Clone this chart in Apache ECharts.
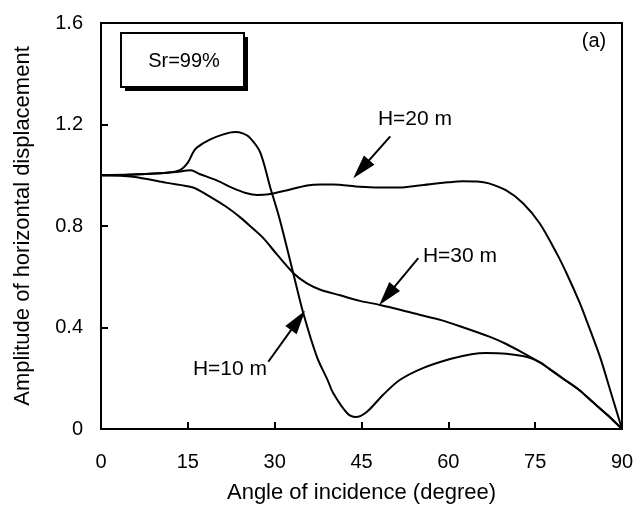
<!DOCTYPE html>
<html><head><meta charset="utf-8">
<script src="https://cdn.jsdelivr.net/npm/echarts@6/dist/echarts.min.js"></script>
<style>html,body{margin:0;padding:0;background:#fff}#c{width:644px;height:509px}</style>
</head><body><div id="c"></div>
<script>
// ---- data ----
const xTickStep = 15;
const yTickStep = 0.4;
const seriesNames = ['H=10 m', 'H=20 m', 'H=30 m'];

const h10Angle = [0, 5, 11.4, 13.6, 15, 15.9, 16.6, 18.8, 21, 23.1, 24.5, 25.7, 27.5, 29.2, 30.9, 33.2, 34.9, 37.3, 39.2, 40.1, 42.5, 44, 45.9, 48.7, 51.6, 55.6, 60.3, 64, 66.5, 70, 73.6, 75.8, 78, 80, 82.6, 85, 87.5, 90];
const h10Amp   = [1.0, 1.003, 1.01, 1.02, 1.05, 1.09, 1.11, 1.14, 1.16, 1.17, 1.165, 1.148, 1.09, 0.955, 0.824, 0.615, 0.46, 0.284, 0.19, 0.142, 0.063, 0.047, 0.067, 0.134, 0.193, 0.24, 0.276, 0.295, 0.30, 0.297, 0.284, 0.264, 0.228, 0.195, 0.154, 0.105, 0.055, 0];

const h20Angle = [0, 5, 10, 13, 15.5, 17, 20, 22.7, 25, 27, 29, 32, 35.6, 38, 40, 44.7, 48, 51.5, 55, 60, 62.5, 65, 67, 70, 72.9, 75.8, 78.7, 80.5, 82.7, 84, 86.2, 88, 90];
const h20Amp   = [1.0, 1.002, 1.008, 1.013, 1.02, 1.005, 0.98, 0.95, 0.93, 0.922, 0.925, 0.94, 0.96, 0.964, 0.964, 0.955, 0.952, 0.952, 0.96, 0.972, 0.976, 0.975, 0.968, 0.94, 0.89, 0.81, 0.693, 0.61, 0.497, 0.42, 0.284, 0.15, 0];

const h30Angle = [0, 5.5, 11.4, 15.9, 18.3, 21.7, 24, 26, 28, 30.5, 33.2, 35.5, 38, 41.3, 44.7, 48.2, 52, 55, 58.6, 62, 67.2, 70, 72.5, 75.8, 78, 80, 82.6, 85, 87.5, 90];
const h30Amp   = [1.0, 0.994, 0.97, 0.952, 0.923, 0.875, 0.835, 0.795, 0.753, 0.685, 0.615, 0.575, 0.548, 0.527, 0.505, 0.489, 0.468, 0.45, 0.43, 0.405, 0.363, 0.335, 0.305, 0.262, 0.228, 0.196, 0.154, 0.105, 0.055, 0];

// annotation arrows: [start angle, start amp, head angle, head amp]
const arrow10 = [28.9, 0.265, 34.03, 0.428];
const arrow20 = [49.97, 1.153, 44.95, 1.024];
const arrow30 = [54.81, 0.673, 49.4, 0.525];

const panelText = 'Sr=99%';
const panelTag = '(a)';
const xTitle = 'Angle of incidence (degree)';
const yTitle = 'Amplitude of horizontal displacement';

// ---- chart ----
const FONT = '"Liberation Sans", Arial, sans-serif';
const zip = (a, b) => a.map((v, i) => [v, b[i]]);
const arrowLine = a => ({
  silent: true,
  symbol: ['none', 'triangle'],
  symbolSize: [14, 24],
  label: { show: false },
  lineStyle: { color: '#000', width: 2, type: 'solid' },
  emphasis: { disabled: true },
  data: [[{ coord: [a[0], a[1]] }, { coord: [a[2], a[3]] }]]
});
const lineSeries = (name, ang, amp, arrow) => ({
  name, type: 'line', data: zip(ang, amp),
  showSymbol: false, smooth: 0.3, silent: true,
  lineStyle: { color: '#000', width: 2 },
  itemStyle: { color: '#000' },
  markLine: arrowLine(arrow),
  z: 3
});

const chart = echarts.init(document.getElementById('c'), null, { renderer: 'canvas' });
chart.setOption({
  animation: false,
  backgroundColor: '#fff',
  textStyle: { fontFamily: FONT },
  grid: { left: 101, right: 22, top: 23, bottom: 80, show: true, borderColor: '#000', borderWidth: 2, backgroundColor: 'transparent' },
  xAxis: {
    type: 'value', min: 0, max: 90, interval: xTickStep,
    name: xTitle, nameLocation: 'middle', nameGap: 53,
    nameTextStyle: { fontSize: 22, color: '#000', fontFamily: FONT },
    axisLine: { lineStyle: { color: '#000', width: 2 } },
    axisTick: { inside: true, length: 7, lineStyle: { color: '#000', width: 2 } },
    axisLabel: { fontSize: 20, color: '#000', margin: 23, fontFamily: FONT },
    splitLine: { show: false }
  },
  yAxis: {
    type: 'value', min: 0, max: 1.6, interval: yTickStep,
    name: yTitle, nameLocation: 'middle', nameGap: 67, nameRotate: 90,
    nameTextStyle: { fontSize: 22, color: '#000', fontFamily: FONT },
    axisLine: { lineStyle: { color: '#000', width: 2 } },
    axisTick: { inside: true, length: 7, lineStyle: { color: '#000', width: 2 } },
    axisLabel: { fontSize: 20, color: '#000', margin: 18, fontFamily: FONT,
      formatter: v => v === 0 ? '0' : v.toFixed(1) },
    splitLine: { show: false }
  },
  series: [
    lineSeries(seriesNames[0], h10Angle, h10Amp, arrow10),
    lineSeries(seriesNames[1], h20Angle, h20Amp, arrow20),
    lineSeries(seriesNames[2], h30Angle, h30Amp, arrow30)
  ],
  graphic: [
    { type: 'rect', shape: { x: 125, y: 37, width: 123, height: 54 }, style: { fill: '#000' }, z: 10 },
    { type: 'rect', shape: { x: 121, y: 33, width: 123, height: 54 }, style: { fill: '#fff', stroke: '#000', lineWidth: 2 }, z: 11 },
    { type: 'text', x: 184, y: 61, z: 12, style: { text: panelText, font: '20px ' + FONT, fill: '#000', align: 'center', verticalAlign: 'middle' } },
    { type: 'text', x: 594, y: 41, z: 12, style: { text: panelTag, font: '20px ' + FONT, fill: '#000', align: 'center', verticalAlign: 'middle' } },
    { type: 'text', x: 415, y: 119, z: 12, style: { text: seriesNames[1], font: '21px ' + FONT, fill: '#000', align: 'center', verticalAlign: 'middle' } },
    { type: 'text', x: 460, y: 256, z: 12, style: { text: seriesNames[2], font: '21px ' + FONT, fill: '#000', align: 'center', verticalAlign: 'middle' } },
    { type: 'text', x: 230, y: 369, z: 12, style: { text: seriesNames[0], font: '21px ' + FONT, fill: '#000', align: 'center', verticalAlign: 'middle' } }
  ]
});
</script></body></html>
